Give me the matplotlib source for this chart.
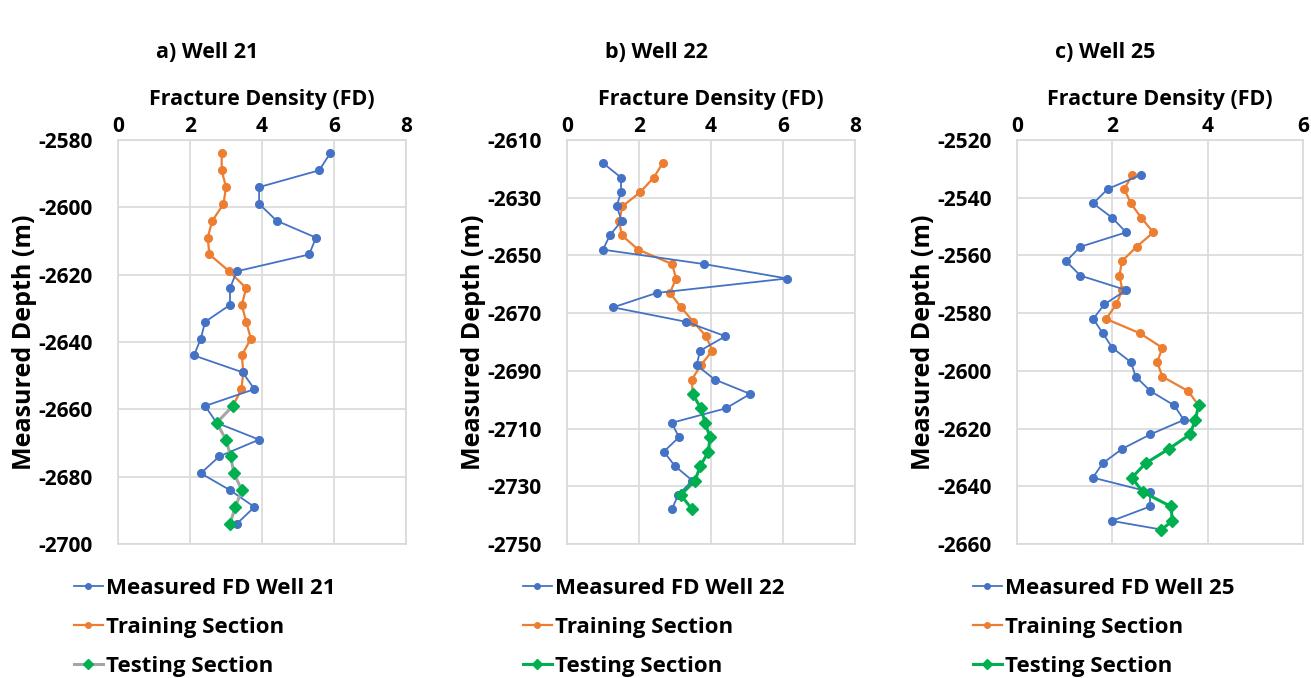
import matplotlib
matplotlib.use("Agg")
import matplotlib.pyplot as plt
from matplotlib.lines import Line2D

plt.rcParams['font.family'] = ['Open Sans', 'DejaVu Sans']
plt.rcParams['font.weight'] = 'bold'
plt.rcParams['axes.unicode_minus'] = False

# Well 21
depth21 = [-2584, -2589, -2594, -2599, -2604, -2609, -2614, -2619, -2624, -2629, -2634, -2639,
           -2644, -2649, -2654, -2659, -2664, -2669, -2674, -2679, -2684, -2689, -2694]
meas21 = [5.89, 5.59, 3.92, 3.92, 4.41, 5.50, 5.31, 3.30, 3.11, 3.11, 2.42, 2.30,
          2.11, 3.46, 3.79, 2.42, 2.74, 3.92, 2.81, 2.30, 3.11, 3.79, 3.30]
train21_depth = [-2584, -2589, -2594, -2599, -2604, -2609, -2614, -2619, -2624, -2629, -2634,
                 -2639, -2644, -2649, -2654]
train21 = [2.88, 2.88, 3.00, 2.93, 2.62, 2.49, 2.54, 3.09, 3.56, 3.44, 3.56, 3.69, 3.44, 3.48, 3.43]
test21_depth = [-2659, -2664, -2669, -2674, -2679, -2684, -2689, -2694]
test21 = [3.19, 2.74, 3.00, 3.13, 3.22, 3.44, 3.26, 3.11]

# Well 22
depth22 = [-2618, -2623, -2628, -2633, -2638, -2643, -2648, -2653, -2658, -2663, -2668, -2673,
           -2678, -2683, -2688, -2693, -2698, -2703, -2708, -2713, -2718, -2723, -2728, -2733, -2738]
meas22 = [1.00, 1.50, 1.50, 1.38, 1.52, 1.19, 1.00, 3.81, 6.11, 2.49, 1.28, 3.31,
          4.40, 3.70, 3.60, 4.10, 5.09, 4.41, 2.91, 3.11, 2.69, 3.00, 3.48, 3.09, 2.91]
train22_depth = [-2618, -2623, -2628, -2633, -2638, -2643, -2648, -2653, -2658, -2663, -2668,
                 -2673, -2678, -2683, -2688, -2693]
train22 = [2.66, 2.41, 2.04, 1.54, 1.45, 1.52, 1.98, 2.92, 3.03, 2.86, 3.17, 3.51, 3.86, 4.04, 3.72, 3.47]
test22_depth = [-2698, -2703, -2708, -2713, -2718, -2723, -2728, -2733, -2738]
test22 = [3.49, 3.72, 3.84, 3.97, 3.93, 3.70, 3.56, 3.16, 3.48]

# Well 25
depth25 = [-2532, -2537, -2542, -2547, -2552, -2557, -2562, -2567, -2572, -2577, -2582, -2587, -2592,
           -2597, -2602, -2607, -2612, -2617, -2622, -2627, -2632, -2637, -2642, -2647, -2652, -2655]
meas25 = [2.61, 1.90, 1.60, 2.00, 2.29, 1.33, 1.03, 1.33, 2.29, 1.83, 1.60, 1.80, 2.00,
          2.39, 2.49, 2.80, 3.30, 3.50, 2.80, 2.21, 1.80, 1.59, 2.79, 2.79, 1.99, 3.03]
train25_depth = [-2532, -2537, -2542, -2547, -2552, -2557, -2562, -2567, -2572, -2577, -2582,
                 -2587, -2592, -2597, -2602, -2607]
train25 = [2.42, 2.25, 2.39, 2.61, 2.86, 2.51, 2.20, 2.15, 2.21, 2.08, 1.87, 2.58, 3.05, 2.94, 3.05, 3.59]
test25_depth = [-2612, -2617, -2622, -2627, -2632, -2637, -2642, -2647, -2652, -2655]
test25 = [3.81, 3.74, 3.63, 3.19, 2.70, 2.41, 2.64, 3.23, 3.26, 3.03]

titles = ['a) Well 21', 'b) Well 22', 'c) Well 25']
wells = ['Well 21', 'Well 22', 'Well 25']
xmax = [8, 8, 6]
ylims = [(-2700, -2580), (-2750, -2610), (-2660, -2520)]

BLUE = '#4472C4'
ORANGE = '#ED7D31'
GREEN = '#00B050'
GRAY = '#A5A5A5'
GRID = '#D9D9D9'

data = [
    (depth21, meas21, train21_depth, train21, test21_depth, test21, GRAY),
    (depth22, meas22, train22_depth, train22, test22_depth, test22, GREEN),
    (depth25, meas25, train25_depth, train25, test25_depth, test25, GREEN),
]

fig = plt.figure(figsize=(13.11, 6.78), dpi=100)
lefts = [118, 567, 1017]
widths = [288, 288, 286]
W, H = 1311, 678
top_px, bot_px = 140, 544

for i in range(3):
    d, m, td, tr, sd, st, test_line = data[i]
    ax = fig.add_axes([lefts[i] / W, 1 - bot_px / H, widths[i] / W, (bot_px - top_px) / H])

    # training line runs on into the first testing point
    ax.plot(tr + [st[0]], td + [sd[0]], color=ORANGE, lw=1.6, marker='o', ms=5.5,
            markevery=list(range(len(tr))), zorder=3)
    ax.plot(m, d, color=BLUE, lw=1.3, marker='o', ms=5.5, zorder=4)
    ax.plot(st, sd, color=test_line, lw=2.2, marker='D', ms=6.5,
            mfc=GREEN, mec=GREEN, zorder=5)

    ax.set_xlim(0, xmax[i])
    ax.set_xticks(range(0, xmax[i] + 1, 2))
    ax.set_ylim(*ylims[i])
    ax.set_yticks(range(ylims[i][0], ylims[i][1] + 1, 20))
    ax.xaxis.tick_top()
    ax.xaxis.set_label_position('top')
    ax.tick_params(axis='both', length=0, labelsize=15)
    ax.tick_params(axis='x', pad=2)
    ax.tick_params(axis='y', pad=18)
    for lab in ax.get_xticklabels() + ax.get_yticklabels():
        lab.set_fontweight('bold')
    ax.set_xlabel('Fracture Density (FD)', fontsize=15.5, fontweight='bold', labelpad=8)
    ax.set_ylabel('Measured Depth (m)', fontsize=18, fontweight='bold', labelpad=1)
    ax.grid(True, color=GRID, lw=1.2)
    ax.set_axisbelow(True)
    for sp in ax.spines.values():
        sp.set_color(GRID)
        sp.set_linewidth(1.2)

    fig.text((lefts[i] + widths[i] / 2 - 55) / W, 1 - 52 / H, titles[i],
             fontsize=15.5, fontweight='bold', ha='center', va='center')

    handles = [
        Line2D([], [], color=BLUE, lw=1.3, marker='o', ms=4),
        Line2D([], [], color=ORANGE, lw=1.6, marker='o', ms=4),
        Line2D([], [], color=test_line, lw=2.2, marker='D', ms=5, mfc=GREEN, mec=GREEN),
    ]
    labels = ['Measured FD ' + wells[i], 'Training Section', 'Testing Section']
    ax.legend(handles, labels, loc='upper left',
              bbox_to_anchor=((lefts[i] - 44) / W, 1 - 578 / H),
              bbox_transform=fig.transFigure, frameon=False,
              prop={'size': 16, 'weight': 'bold'}, handlelength=1.3,
              handletextpad=0.15, labelspacing=0.8, borderaxespad=0, borderpad=0)

fig.savefig('out.png', dpi=100)
